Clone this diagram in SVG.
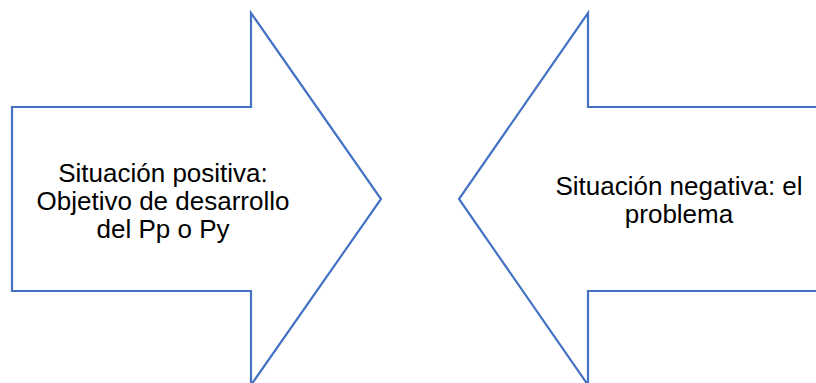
<svg xmlns="http://www.w3.org/2000/svg" width="816" height="383" viewBox="0 0 816 383">
<style>
.arrow{fill:#ffffff;stroke:#4472C4;stroke-width:2.2;stroke-linejoin:miter}
.t{font-family:"Liberation Sans",Arial,sans-serif;font-size:26px;fill:#000000;text-anchor:middle}
</style>
<rect width="816" height="383" fill="#ffffff"/>
<g id="positive">
<polygon class="arrow" points="12,107 251,107 251,13 381,199 251,385 251,291 12,291"/>
<text class="t" x="163" y="181.5">Situación positiva:</text>
<text class="t" x="163" y="209.5">Objetivo de desarrollo</text>
<text class="t" x="163" y="237.5">del Pp o Py</text>
</g>
<g id="negative">
<polygon class="arrow" points="830,107 588,107 588,13 459,199 588,385 588,291 830,291"/>
<text class="t" x="679" y="195">Situación negativa: el</text>
<text class="t" x="679" y="223">problema</text>
</g>
<g id="connectors"></g>
</svg>
